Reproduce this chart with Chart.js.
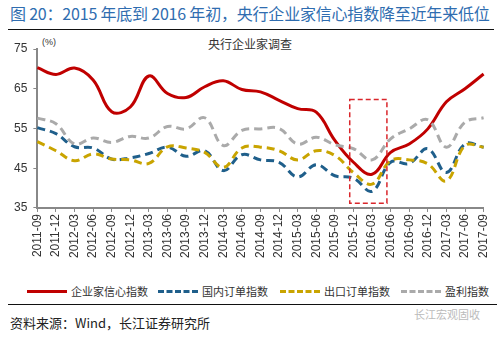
<!DOCTYPE html>
<html>
<head>
<meta charset="utf-8">
<script src="https://cdn.jsdelivr.net/npm/chart.js@4.4.0/dist/chart.umd.min.js"></script>
<style>
  body { margin: 0; width: 500px; height: 337px; background: #fff; position: relative; overflow: hidden;
         font-family: "Noto Sans CJK SC", "Liberation Sans", Arial, sans-serif; }
  #title { position: absolute; left: 10px; top: 1px; font-size: 16px; color: #2F6DB0; white-space: nowrap; letter-spacing: -0.2px; }
  .rule { position: absolute; left: 8px; width: 486px; height: 0; border-top: 1.5px solid #111; }
  #sub { position: absolute; left: 0; width: 500px; top: 35px; text-align: center; font-size: 12px; color: #333; }
  #unit { position: absolute; left: 42px; top: 37px; font-size: 9px; color: #333; font-family: "Liberation Sans", Arial, sans-serif; }
  #legend { position: absolute; top: 283px; left: 0; width: 500px; font-size: 11px; color: #333; }
  .item { position: absolute; top: 0; white-space: nowrap; }
  .swatch { display: inline-block; width: 40px; vertical-align: middle; margin-right: 4px; position: relative; top: -2px; }
  #source { position: absolute; left: 10px; top: 313px; font-size: 13px; color: #222; }
  #mark { position: absolute; left: 414px; top: 306px; font-size: 11px; color: #bbb; }
  canvas { position: absolute; left: 0; top: 0; }
</style>
</head>
<body>
<div id="title">图 20：2015 年底到 2016 年初，央行企业家信心指数降至近年来低位</div>
<div class="rule" style="top:29px"></div>
<div id="sub">央行企业家调查</div>
<div id="unit">(%)</div>
<div style="position:absolute;left:0;top:0;width:500px;height:262px"><canvas id="c" width="500" height="262"></canvas></div>
<div id="legend">
  <div class="item" style="left:27px"><span class="swatch" style="border-top:3px solid #C00000"></span>企业家信心指数</div>
  <div class="item" style="left:158px"><span class="swatch" style="border-top:3px dashed #1F5F8B"></span>国内订单指数</div>
  <div class="item" style="left:280px"><span class="swatch" style="border-top:3px dashed #C9A400"></span>出口订单指数</div>
  <div class="item" style="left:401px"><span class="swatch" style="border-top:3px dashed #AAAAAA"></span>盈利指数</div>
</div>
<div class="rule" style="top:304px;width:489px"></div>
<div id="source">资料来源：Wind，长江证券研究所</div>
<div id="mark">长江宏观固收</div>
<script>
const quarters = ['2011-09','2011-12','2012-03','2012-06','2012-09','2012-12','2013-03','2013-06','2013-09','2013-12',
  '2014-03','2014-06','2014-09','2014-12','2015-03','2015-06','2015-09','2015-12','2016-03','2016-06',
  '2016-09','2016-12','2017-03','2017-06','2017-09'];

const confidence = [70.3, 68.6, 70.2, 67.2, 59.2, 60.4, 68.2, 63.8, 62.8, 65.5, 67.0, 64.8, 64.2, 62.1, 60.0, 59.1,
  52.0, 46.5, 43.5, 49.0, 51.1, 54.9, 61.7, 65.0, 68.7];
const domesticOrders = [55.2, 53.7, 50.4, 50.1, 47.3, 47.6, 48.7, 50.3, 48.0, 49.4, 44.4, 48.4, 47.1, 46.5, 42.8, 45.9,
  43.1, 42.5, 39.2, 46.5, 46.2, 49.9, 43.9, 51.1, 50.3];
const exportOrders = [51.7, 49.4, 46.9, 48.6, 47.3, 47.1, 46.2, 50.4, 50.1, 49.0, 45.2, 50.1, 50.3, 49.4, 47.1, 49.4,
  48.2, 43.9, 41.0, 46.9, 47.1, 46.1, 41.8, 50.7, 50.3];
const profit = [57.6, 56.2, 51.1, 52.6, 51.5, 53.0, 52.6, 55.5, 54.9, 57.7, 50.7, 54.5, 54.9, 55.0, 51.1, 52.8,
  50.9, 49.9, 47.1, 52.4, 54.9, 57.2, 50.3, 56.6, 57.7];

// highlighted window (category index range, value range)
const boxFrom = 16.8, boxTo = 18.8, boxLow = 36.2, boxHigh = 62.3;

const boxPlugin = {
  id: 'box',
  afterDatasetsDraw(chart) {
    const { ctx, scales: { x, y } } = chart;
    ctx.save();
    ctx.strokeStyle = '#D9262B';
    ctx.lineWidth = 1.5;
    ctx.setLineDash([5, 3]);
    const x0 = x.getPixelForValue(boxFrom), x1 = x.getPixelForValue(boxTo);
    const y0 = y.getPixelForValue(boxHigh), y1 = y.getPixelForValue(boxLow);
    ctx.strokeRect(x0, y0, x1 - x0, y1 - y0);
    ctx.restore();
  }
};

new Chart(document.getElementById('c'), {
  type: 'line',
  data: {
    labels: quarters,
    datasets: [
      { label: '企业家信心指数', data: confidence, borderColor: '#C00000', borderWidth: 3 },
      { label: '国内订单指数', data: domesticOrders, borderColor: '#1F5F8B', borderWidth: 3, borderDash: [8, 5] },
      { label: '出口订单指数', data: exportOrders, borderColor: '#C9A400', borderWidth: 3, borderDash: [8, 5] },
      { label: '盈利指数', data: profit, borderColor: '#AAAAAA', borderWidth: 3, borderDash: [8, 5] }
    ].reverse()
  },
  options: {
    responsive: false,
    animation: false,
    elements: { point: { radius: 0 }, line: { tension: 0.4, fill: false } },
    layout: { padding: { top: 49, left: 8, right: 12, bottom: 2 } },
    plugins: { legend: { display: false }, tooltip: { enabled: false } },
    scales: {
      x: {
        offset: false,
        grid: { drawOnChartArea: false, drawTicks: true, tickLength: 4, color: '#888' },
        border: { color: '#888', width: 2 },
        ticks: { autoSkip: false, maxRotation: 90, minRotation: 90, color: '#333', padding: 2,
                 font: { family: 'Liberation Sans, Arial', size: 12 } }
      },
      y: {
        min: 35, max: 75,
        grid: { drawOnChartArea: false, drawTicks: true, tickLength: 4, color: '#888' },
        border: { color: '#888', width: 2 },
        ticks: { stepSize: 10, color: '#333', padding: 6, font: { family: 'Liberation Sans, Arial', size: 12 } }
      }
    }
  },
  plugins: [boxPlugin]
});
</script>
</body>
</html>
